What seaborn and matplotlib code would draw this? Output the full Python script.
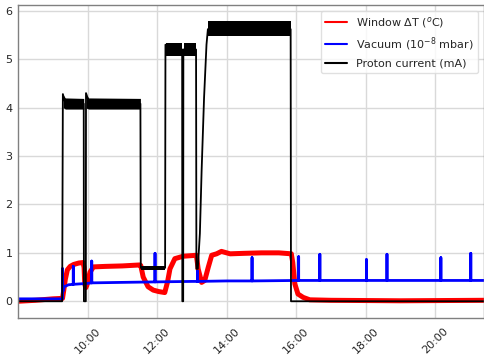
import numpy as np
import pandas as pd
import matplotlib
matplotlib.use("Agg")
import matplotlib.pyplot as plt
import matplotlib.dates as mdates
import seaborn as sns

# ---------------- data (time in hours of day) ----------------
red_t = [8.0, 8.5, 9.0, 9.28, 9.31, 9.36, 9.42, 9.5, 9.6, 9.75, 9.87, 9.9, 9.92, 9.95, 9.98,
         10.07, 10.17, 10.5, 11.0, 11.5, 11.53, 11.6, 11.74, 11.89, 12.05, 12.22, 12.3, 12.37,
         12.51, 12.75, 13.13, 13.18, 13.28, 13.37, 13.47, 13.57, 13.71, 13.85, 14.1, 14.5,
         15.0, 15.5, 15.86, 15.9, 15.96, 16.05, 16.2, 16.39, 17.0, 19.0, 21.4]
red_v = [0.0, 0.02, 0.05, 0.06, 0.2, 0.45, 0.65, 0.72, 0.76, 0.79, 0.8, 0.7, 0.35, 0.28, 0.33,
         0.6, 0.71, 0.72, 0.73, 0.75, 0.74, 0.5, 0.3, 0.23, 0.2, 0.18, 0.4, 0.67,
         0.88, 0.93, 0.95, 0.67, 0.39, 0.43, 0.7, 0.95, 0.98, 1.03, 0.98, 0.99,
         1.0, 1.0, 0.98, 0.8, 0.36, 0.15, 0.08, 0.03, 0.02, 0.01, 0.02]

blue_t = [8.0, 9.27, 9.28, 9.28, 9.29, 9.33, 9.45, 9.59, 9.59, 9.59, 9.8, 10.0, 10.12, 10.12,
          10.12, 11.0, 11.94, 11.94, 11.94, 13.0, 13.16, 13.16, 13.16, 14.0, 14.73, 14.73,
          14.73, 16.07, 16.07, 16.07, 16.68, 16.68, 16.68, 18.02, 18.02, 18.02, 18.61, 18.61,
          18.61, 20.16, 20.16, 20.16, 21.02, 21.02, 21.02, 21.4]
blue_v = [0.05, 0.05, 0.05, 0.68, 0.2, 0.3, 0.34, 0.35, 0.72, 0.35, 0.36, 0.37, 0.38, 0.83,
          0.38, 0.39, 0.40, 0.99, 0.40, 0.41, 0.41, 0.62, 0.41, 0.42, 0.42, 0.90,
          0.42, 0.43, 0.92, 0.43, 0.43, 0.97, 0.43, 0.43, 0.86, 0.43, 0.43, 0.97,
          0.43, 0.43, 0.90, 0.43, 0.43, 0.99, 0.43, 0.43]

black_t = [8.0, 9.27, 9.29, 9.35, 9.5, 9.89, 9.895, 9.95, 9.955, 10.05, 11.52, 11.53, 12.23,
           12.24, 12.3, 12.72, 12.725, 12.75, 12.755, 13.12, 13.13, 13.17, 13.23, 13.28, 13.35,
           13.42, 13.46, 15.84, 15.85, 21.4]
black_v = [0.0, 0.0, 4.28, 4.12, 4.08, 4.08, 0.0, 0.0, 4.3, 4.1, 4.08, 0.69, 0.69,
           5.3, 5.2, 5.2, 0.0, 0.0, 5.2, 5.2, 0.67, 0.67, 1.4, 2.7, 4.2,
           5.3, 5.62, 5.62, 0.0, 0.0]

# noise envelope of the proton current plateaus (time, low, high)
band_t = [[9.30, 9.36, 9.89],
          [9.96, 10.03, 11.52],
          [11.53, 12.23],
          [12.25, 12.72],
          [12.76, 13.12],
          [13.47, 15.84]]
band_lo = [[4.0, 3.97, 3.97],
           [3.99, 3.97, 3.97],
           [0.65, 0.65],
           [5.07, 5.07],
           [5.07, 5.07],
           [5.48, 5.48]]
band_hi = [[4.26, 4.2, 4.19],
           [4.26, 4.2, 4.19],
           [0.73, 0.73],
           [5.33, 5.33],
           [5.33, 5.33],
           [5.79, 5.79]]

labels = ["Window \u0394T ($^o$C)", "Vacuum (10$^{-8}$ mbar)", "Proton current (mA)"]
colors = ["red", "blue", "black"]
x_ticks_h = [10, 12, 14, 16, 18, 20]
y_ticks = [0, 1, 2, 3, 4, 5, 6]

# ---------------- style ----------------
sns.set_theme(style="whitegrid")
plt.rcParams["font.family"] = ["DejaVu Sans"]
plt.rcParams["axes.edgecolor"] = "0.5"
plt.rcParams["grid.color"] = "0.85"

day = pd.Timestamp("2019-05-01")
def to_dt(hours):
    return day + pd.to_timedelta(np.asarray(hours, dtype=float), unit="h")

fig = plt.figure(figsize=(4.84, 3.55), dpi=100)
ax = fig.add_axes([0.0372, 0.105, 0.9628, 0.881])

sns.lineplot(x=to_dt(red_t), y=red_v, ax=ax, color=colors[0], lw=3.6, sort=False,
             estimator=None, label=labels[0])
sns.lineplot(x=to_dt(blue_t), y=blue_v, ax=ax, color=colors[1], lw=2.0, sort=False,
             estimator=None, label=labels[1])
for bt, lo, hi in zip(band_t, band_lo, band_hi):
    ax.fill_between(to_dt(bt), lo, hi, color="black", lw=0, zorder=3)
sns.lineplot(x=to_dt(black_t), y=black_v, ax=ax, color=colors[2], lw=1.3, sort=False,
             estimator=None, label=labels[2])

ax.set_xlim(to_dt([8.0])[0], to_dt([21.4])[0])
ax.set_ylim(-0.34, 6.12)
ax.set_yticks(y_ticks)
ax.set_xticks(to_dt(x_ticks_h))
ax.xaxis.set_major_formatter(mdates.DateFormatter("%H:%M"))
ax.tick_params(axis="both", labelsize=8, length=0)
ax.tick_params(axis="x", pad=6)
ax.tick_params(axis="y", pad=4)
for lab in ax.get_xticklabels():
    lab.set_rotation(45)
    lab.set_ha("center")
ax.set_xlabel("")
ax.set_ylabel("")
for sp in ["top", "left", "bottom", "right"]:
    ax.spines[sp].set_visible(True)
    ax.spines[sp].set_color("0.5")
    ax.spines[sp].set_linewidth(1.0)

leg = ax.legend(loc="upper right", fontsize=8, framealpha=0.8, edgecolor="0.85")
for h in leg.get_lines():
    h.set_linewidth(1.5)

fig.savefig("out.png", dpi=100)
